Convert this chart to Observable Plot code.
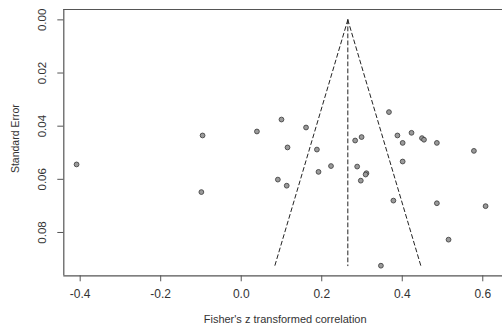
<!DOCTYPE html>
<html>
<head>
<meta charset="utf-8">
<script src="https://cdn.jsdelivr.net/npm/d3@7"></script>
<script src="https://cdn.jsdelivr.net/npm/@observablehq/plot@0.6"></script>
<style>
  html, body { margin: 0; padding: 0; background: #fff; overflow: hidden; }
  svg { display: block; }
</style>
</head>
<body>
<div id="chart"></div>
<script>
// Study effects (Fisher's z) and their standard errors
const effects = [-0.409, -0.096, -0.099, 0.039, 0.100, 0.115, 0.091, 0.113, 0.161, 0.188,
  0.192, 0.223, 0.283, 0.299, 0.288, 0.311, 0.309, 0.297, 0.367, 0.388,
  0.423, 0.401, 0.449, 0.454, 0.486, 0.578, 0.401, 0.378, 0.486, 0.607,
  0.515, 0.347];
const standardErrors = [0.0544, 0.0435, 0.0648, 0.0420, 0.0375, 0.0480, 0.0601, 0.0624, 0.0405, 0.0488,
  0.0572, 0.0550, 0.0454, 0.0441, 0.0552, 0.0577, 0.0582, 0.0605, 0.0347, 0.0435,
  0.0425, 0.0463, 0.0445, 0.0451, 0.0463, 0.0493, 0.0533, 0.0680, 0.0690, 0.0701,
  0.0827, 0.0925];
const pooledEstimate = 0.2648;
const funnelMaxSE = 0.0925;
const xTicks = [-0.4, -0.2, 0.0, 0.2, 0.4, 0.6];
const yTicks = [0.00, 0.02, 0.04, 0.06, 0.08];

const studies = effects.map((e, i) => ({z: e, se: standardErrors[i]}));
const funnelLeft = [
  {z: pooledEstimate, se: 0},
  {z: pooledEstimate - 1.96 * funnelMaxSE, se: funnelMaxSE}
];
const funnelRight = [
  {z: pooledEstimate, se: 0},
  {z: pooledEstimate + 1.96 * funnelMaxSE, se: funnelMaxSE}
];
const funnelCenter = [
  {z: pooledEstimate, se: 0},
  {z: pooledEstimate, se: funnelMaxSE}
];

const xDomain = [-0.4407, 0.649];
const yDomain = [-0.0039, 0.0963];
const font = "Arial, 'Liberation Sans', sans-serif";
const ink = "#333";
const axisInk = "#555";
const dash = "4,3";

const chart = Plot.plot({
  width: 502,
  height: 325,
  marginLeft: 63.3,
  marginRight: 0,
  marginTop: 9,
  marginBottom: 49.7,
  style: {fontFamily: font, background: "#fff", color: ink},
  x: {domain: xDomain},
  y: {domain: yDomain, reverse: true},
  marks: [
    // box (top, left, bottom; right edge lies beyond the picture)
    Plot.ruleY([yDomain[0]], {stroke: axisInk, strokeWidth: 1.2}),
    Plot.ruleY([yDomain[1]], {stroke: axisInk, strokeWidth: 1.2}),
    Plot.ruleX([xDomain[0]], {stroke: axisInk, strokeWidth: 1.2}),
    // axes
    Plot.axisX(xTicks, {tickSize: 6, tickPadding: 8, fontSize: 12, color: ink, stroke: axisInk,
      tickFormat: d => d.toFixed(1), label: null}),
    Plot.axisY(yTicks, {tickSize: 6, tickFormat: () => "", color: ink, stroke: axisInk, label: null}),
    Plot.text(yTicks, {y: d => d, text: d => d.toFixed(2), frameAnchor: "left", dx: -21.6,
      rotate: -90, textAnchor: "middle", lineAnchor: "middle", fontSize: 11.5, fill: ink}),
    // titles
    Plot.text(["Fisher's z transformed correlation"], {frameAnchor: "bottom", dy: 44, dx: 2,
      lineAnchor: "middle", fontSize: 11, fill: ink}),
    Plot.text(["Standard Error"], {frameAnchor: "left", dx: -48.3, dy: -4, rotate: -90,
      lineAnchor: "middle", textAnchor: "middle", fontSize: 10.5, fill: ink}),
    // funnel
    Plot.line(funnelLeft, {x: "z", y: "se", stroke: "#222", strokeWidth: 1, strokeDasharray: dash}),
    Plot.line(funnelRight, {x: "z", y: "se", stroke: "#222", strokeWidth: 1, strokeDasharray: dash}),
    Plot.line(funnelCenter, {x: "z", y: "se", stroke: "#222", strokeWidth: 1, strokeDasharray: dash}),
    // studies
    Plot.dot(studies, {x: "z", y: "se", r: 2.4, fill: "#9a9a9a", stroke: "#444", strokeWidth: 0.9})
  ]
});
document.getElementById("chart").appendChild(chart);
</script>
</body>
</html>
